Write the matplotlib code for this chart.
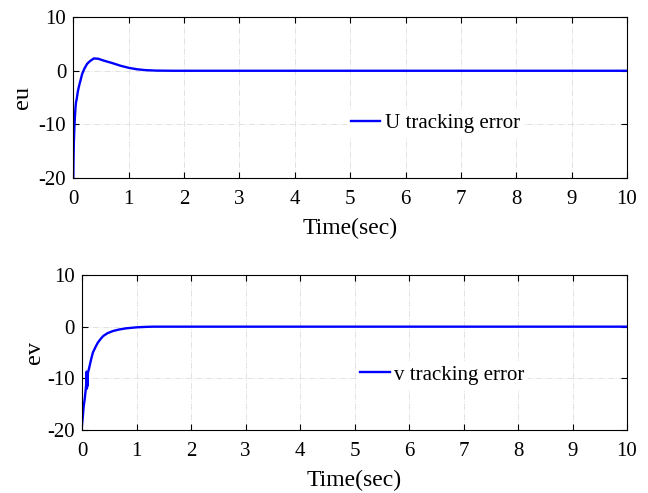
import matplotlib
matplotlib.use("Agg")
import matplotlib.pyplot as plt

# eu: U tracking error
t_u = [0, 0.005, 0.01, 0.02, 0.03, 0.04, 0.05, 0.06, 0.08, 0.10, 0.12, 0.16, 0.20, 0.25,
       0.30, 0.37, 0.45, 0.55, 0.70, 0.85, 1.00, 1.15, 1.30, 1.50, 1.80, 2.5, 10]
eu = [-20, -16, -13.5, -10.5, -8.5, -6.8, -5.8, -5.4, -4.0, -3.0, -2.2, -0.6, 0.4, 1.3,
      1.8, 2.3, 2.25, 1.9, 1.45, 0.95, 0.55, 0.28, 0.12, 0.03, 0.0, 0.0, 0.0]

# ev: v tracking error
t_v = [0, 0.01, 0.02, 0.03, 0.05, 0.07, 0.08, 0.085, 0.09, 0.095, 0.10, 0.11, 0.12, 0.14,
       0.17, 0.20, 0.25, 0.29, 0.34, 0.39, 0.47, 0.57, 0.68, 0.81, 1.00, 1.15, 1.30, 2.0, 10]
ev = [-19.0, -18.0, -16.8, -15.5, -14.0, -12.0, -10.8, -8.7, -12.0, -9.0, -11.5, -8.8, -8.5, -7.6,
      -6.2, -5.0, -3.9, -3.1, -2.4, -1.8, -1.25, -0.84, -0.55, -0.32, -0.13, -0.05, 0.0, 0.0, 0.0]

plt.rcParams["font.family"] = ["Liberation Serif", "DejaVu Serif"]
plt.rcParams["axes.unicode_minus"] = False

fig = plt.figure(figsize=(6.48, 4.93), dpi=100)
ax1 = fig.add_axes([73.3 / 648, 1 - 177.7 / 493, 553.7 / 648, 160.4 / 493])
ax2 = fig.add_axes([82 / 648, 1 - 430 / 493, 545 / 648, 155 / 493])

panels = [
    (ax1, t_u, eu, "eu", "U tracking error", (0.654, 0.341), 4),
    (ax2, t_v, ev, "ev", "v tracking error", (0.661, 0.355), 2),
]

for ax, t, y, ylab, lab, lpos, ypad in panels:
    ax.plot(t, y, color="#0000ff", lw=1.7, label=lab)
    ax.set_xlim(0, 10)
    ax.set_ylim(-20, 10)
    ax.set_xticks(range(0, 11))
    ax.set_yticks([-20, -10, 0, 10])
    ax.grid(True, color="#e2e2e2", linestyle="-.", linewidth=0.7)
    ax.tick_params(direction="in", top=True, right=True, labelsize=15, length=4.5)
    ax.tick_params(axis="x", pad=9)
    ax.tick_params(axis="y", pad=5)
    ax.set_xlabel("Time(sec)", fontsize=17, labelpad=6)
    ax.set_ylabel(ylab, fontsize=17.5, labelpad=ypad)
    for s in ax.spines.values():
        s.set_linewidth(0.8)
    leg = ax.legend(loc="center", bbox_to_anchor=lpos, frameon=True,
                    fontsize=15, handlelength=1.4, handletextpad=0.2,
                    borderpad=0.15, fancybox=False)
    leg.get_frame().set_edgecolor("white")
    leg.get_frame().set_alpha(1.0)

fig.savefig("out.png", dpi=100)
